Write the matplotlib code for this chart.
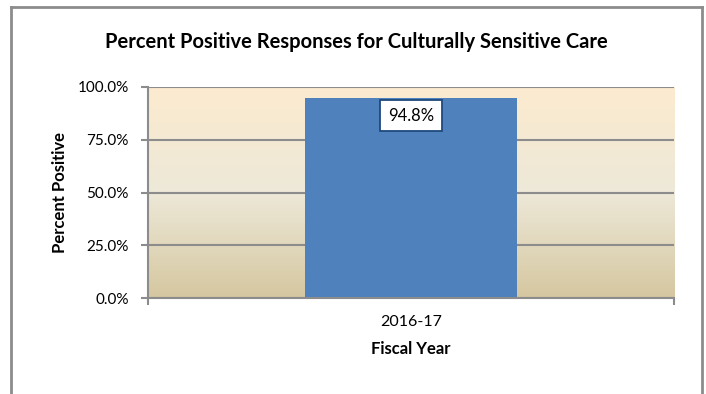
import numpy as np
import matplotlib.pyplot as plt
from matplotlib.ticker import PercentFormatter
from matplotlib.colors import LinearSegmentedColormap
from matplotlib.lines import Line2D

# data
years = ['2016-17']
pct = [94.8]
yticks = [0, 25, 50, 75, 100]

plt.rcParams['font.family'] = ['Lato', 'DejaVu Sans']

fig = plt.figure(figsize=(7.06, 3.94), dpi=100)
ax = fig.add_axes([148/706, 1-298/394, (674-148)/706, (298-87)/394])

# outer chart frame
fc = '#8c8c8c'
fig.add_artist(Line2D([11/706, 11/706], [0, 1-7/394], color=fc, lw=2))
fig.add_artist(Line2D([11/706, 702/706], [1-7/394, 1-7/394], color=fc, lw=2))
fig.add_artist(Line2D([702/706, 702/706], [0, 1-7/394], color=fc, lw=2))

# gradient plot area
cmap = LinearSegmentedColormap.from_list('bg', ['#d5c7a0', '#ede8d8', '#fcebcf'])
grad = np.linspace(0, 1, 256).reshape(-1, 1)
ax.imshow(grad, cmap=cmap, origin='lower', extent=[-0.5, 0.5, 0, 100],
          aspect='auto', zorder=0)

x = np.arange(len(years))
bars = ax.bar(x, pct, width=0.402, color='#4f81bd', zorder=3)

for xi, v in zip(x, pct):
    ax.text(xi, v - 8.5, f'{v:.1f}%', ha='center', va='center', fontsize=12,
            zorder=5,
            bbox=dict(boxstyle='square,pad=0.45', fc='white', ec='#1f497d', lw=1.3))

ax.set_xlim(-0.5, 0.5)
ax.set_ylim(0, 100)
ax.set_yticks(yticks)
ax.yaxis.set_major_formatter(PercentFormatter(decimals=1))
ax.grid(axis='y', color='#8c8c8c', lw=1.5, zorder=1)
for line in ax.get_ygridlines():
    line.set_zorder(1)

ax.set_xticks(x)
ax.set_xticklabels(years)
ax.set_xticks([-0.5, 0.5], minor=True)
ax.tick_params(axis='x', which='major', length=0, pad=12, labelsize=11.5)
ax.tick_params(axis='x', which='minor', length=5, width=1.5, color='#8c8c8c')
ax.tick_params(axis='y', length=5, width=1.5, color='#8c8c8c', labelsize=11, pad=9)

for s in ['top', 'right']:
    ax.spines[s].set_visible(False)
for s in ['left', 'bottom']:
    ax.spines[s].set_color('#8c8c8c')
    ax.spines[s].set_linewidth(1.5)
    ax.spines[s].set_zorder(4)

ax.set_xlabel('Fiscal Year', fontsize=12, fontweight='bold', labelpad=9)
ax.set_ylabel('Percent Positive', fontsize=12, fontweight='bold', labelpad=7)
fig.text(356/706, 1 - 42/394,
         'Percent Positive Responses for Culturally Sensitive Care',
         ha='center', va='center', fontsize=14.5, fontweight='bold')

fig.savefig('out.png', dpi=100)
